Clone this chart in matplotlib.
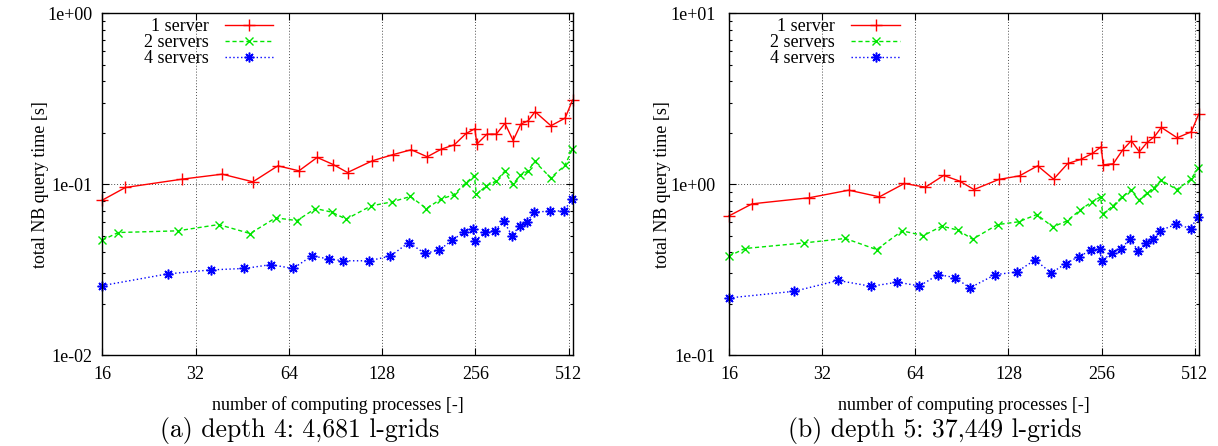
import matplotlib
matplotlib.use("Agg")
import matplotlib.pyplot as plt
from matplotlib.ticker import FixedLocator, FuncFormatter, NullFormatter, NullLocator, LogLocator

# ---- data ----
x_1srv = [16, 19, 29, 39, 49, 59, 69, 79, 89, 99, 119, 139, 159, 179, 199, 219, 239, 255, 259,
          279, 299, 319, 339, 359, 379, 399, 449, 499, 527]
x_2srv = [16, 18, 28, 38, 48, 58, 68, 78, 88, 98, 118, 138, 158, 178, 198, 218, 238, 254, 258,
          278, 298, 318, 338, 358, 378, 398, 448, 498, 526]
x_4srv = [16, 26, 36, 46, 56, 66, 76, 86, 96, 116, 136, 156, 176, 196, 216, 236, 252, 256,
          276, 296, 316, 336, 356, 376, 396, 446, 496, 524]

d4_1srv = [0.0806, 0.0956, 0.107, 0.1144, 0.1032, 0.128, 0.1197, 0.1433, 0.1303, 0.117, 0.137,
           0.149, 0.159, 0.1446, 0.1604, 0.170, 0.198, 0.211, 0.1716, 0.1963, 0.1963, 0.2266,
           0.180, 0.2247, 0.235, 0.2655, 0.2197, 0.2436, 0.3105]
d4_2srv = [0.0470, 0.0521, 0.0533, 0.0580, 0.0514, 0.0635, 0.0612, 0.0720, 0.0686, 0.0624,
           0.0746, 0.0788, 0.0847, 0.0720, 0.0817, 0.0866, 0.1014, 0.1119, 0.0870, 0.0978,
           0.1041, 0.1187, 0.100, 0.1124, 0.1192, 0.1358, 0.1089, 0.1286, 0.1596]
d4_4srv = [0.02548, 0.02983, 0.0315, 0.0321, 0.0338, 0.0321, 0.0380, 0.0365, 0.0356, 0.0356,
           0.0379, 0.0455, 0.0393, 0.0412, 0.0472, 0.0526, 0.0548, 0.0466, 0.0528, 0.0535,
           0.0607, 0.0500, 0.0570, 0.0604, 0.0686, 0.0695, 0.0698, 0.0820]

d5_1srv = [0.652, 0.767, 0.832, 0.922, 0.843, 1.009, 0.960, 1.124, 1.042, 0.930, 1.065, 1.119,
           1.280, 1.070, 1.322, 1.395, 1.513, 1.655, 1.298, 1.316, 1.582, 1.795, 1.547, 1.754,
           1.894, 2.148, 1.868, 2.026, 2.570]
d5_2srv = [0.379, 0.420, 0.453, 0.481, 0.414, 0.533, 0.500, 0.568, 0.538, 0.476, 0.580, 0.602,
           0.664, 0.562, 0.610, 0.705, 0.788, 0.843, 0.670, 0.743, 0.843, 0.922, 0.806, 0.882,
           0.952, 1.055, 0.930, 1.070, 1.247]
d5_4srv = [0.2158, 0.236, 0.273, 0.2525, 0.2667, 0.2537, 0.2955, 0.2838, 0.247, 0.2955, 0.306,
           0.3604, 0.302, 0.343, 0.377, 0.409, 0.420, 0.356, 0.3943, 0.420, 0.4764, 0.4068,
           0.455, 0.478, 0.535, 0.583, 0.550, 0.646]

series_labels = ["1 server", "2 servers", "4 servers"]
x_ticks = [16, 32, 64, 128, 256, 512]
ylims = [(1e-2, 1e0), (1e-1, 1e1)]
captions = ["(a) depth 4: 4,681 l-grids", "(b) depth 5: 37,449 l-grids"]
xlabel = "number of computing processes [-]"
ylabel = "total NB query time [s]"

# ---- style ----
plt.rcParams['font.family'] = ['Liberation Serif', 'DejaVu Serif']
FS = 13

fig = plt.figure(figsize=(12.18, 4.46), dpi=100)
W, H = 1218.0, 446.0
axes_px = [(102.3, 572.5), (729.0, 1198.7)]
top_px, bot_px = 13.3, 355.0
ytick_pads = [7.0, 9.5]
ylabel_x = [-0.113, -0.123]
cap_x = [300.0, 934.6]

styles = [
    dict(color='#ff0000', ls='-', marker='+', ms=8.5, mew=1.0),
    dict(color='#00e600', ls=(0, (3, 2)), marker='x', ms=5.5, mew=1.0),
    dict(color='#0000ff', ls=(0, (1, 1.8)), marker=(8, 2, 0), ms=7, mew=1.1),
]

panels = [
    [(x_1srv, d4_1srv), (x_2srv, d4_2srv), (x_4srv, d4_4srv)],
    [(x_1srv, d5_1srv), (x_2srv, d5_2srv), (x_4srv, d5_4srv)],
]

for i, panel in enumerate(panels):
    l, r = axes_px[i]
    ax = fig.add_axes([l / W, (H - bot_px) / H, (r - l) / W, (bot_px - top_px) / H])
    ax.set_xscale('log', base=2)
    ax.set_yscale('log')
    ax.set_xlim(16, 527)
    ax.set_ylim(*ylims[i])

    for (xs, ys), lab, st in zip(panel, series_labels, styles):
        ax.plot(xs, ys, label=lab, lw=1.0, clip_on=False, **st)

    ax.xaxis.set_major_locator(FixedLocator(x_ticks))
    ax.xaxis.set_major_formatter(FuncFormatter(lambda v, p: f"{int(round(v))}"))
    ax.xaxis.set_minor_locator(NullLocator())
    ax.yaxis.set_major_locator(LogLocator(base=10, numticks=10))
    ax.yaxis.set_major_formatter(FuncFormatter(lambda v, p: f"{v:.0e}"))
    ax.yaxis.set_minor_locator(LogLocator(base=10, subs=range(2, 10), numticks=20))
    ax.yaxis.set_minor_formatter(NullFormatter())

    ax.tick_params(which='both', direction='in', top=True, right=True, labelsize=FS,
                   width=0.8, color='black')
    ax.tick_params(which='major', length=5)
    ax.tick_params(which='minor', length=2.5)
    ax.tick_params(axis='x', which='major', pad=8)
    ax.tick_params(axis='y', which='major', pad=ytick_pads[i])

    ax.grid(True, which='major', color='0.3', lw=0.7, ls=(0, (1, 2)))
    for s in ax.spines.values():
        s.set_linewidth(1.0)
        s.set_color('black')

    ax.set_xlabel(xlabel, fontsize=FS)
    ax.xaxis.set_label_coords(0.5, (bot_px - 396) / (bot_px - top_px))
    ax.set_ylabel(ylabel, fontsize=FS)
    ax.yaxis.set_label_coords(ylabel_x[i], 0.5)

    leg = ax.legend(loc='upper right', bbox_to_anchor=(0.364, 0.985), frameon=False,
                    markerfirst=False, fontsize=FS, handlelength=2.7, handletextpad=0.9,
                    labelspacing=-0.06, borderpad=0.0, borderaxespad=0.0, numpoints=1)

    fig.text(cap_x[i] / W, (H - 431) / H, captions[i], fontsize=18.5, family='cmr10',
             ha='center', va='center')

fig.savefig('out.png', dpi=100)
